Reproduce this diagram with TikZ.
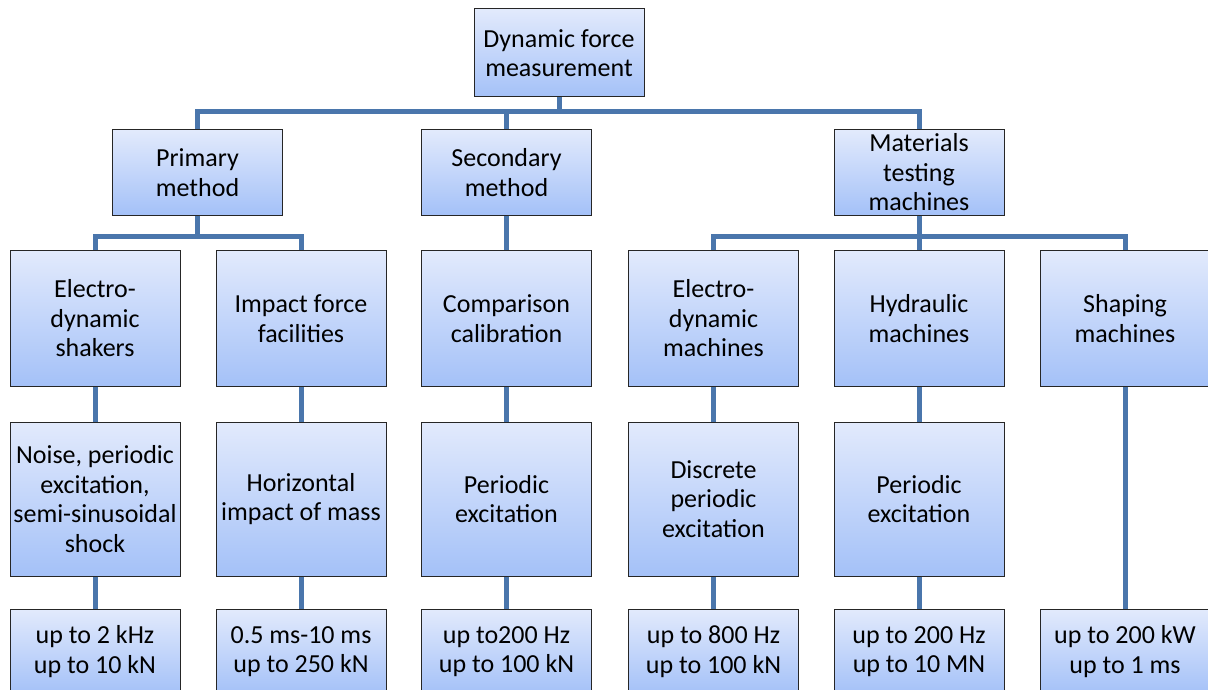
\documentclass[tikz,border=0pt]{standalone}
\usepackage{fontspec}
\setmainfont{Carlito}
\definecolor{boxtop}{HTML}{E2EAFC}
\definecolor{boxbot}{HTML}{A4C1F8}
\definecolor{conn}{HTML}{4A76AC}
\begin{document}
\begin{tikzpicture}[x=1pt,y=-1pt,
  box/.style={draw=black!85,line width=1pt,top color=boxtop,bottom color=boxbot,
    minimum width=170pt,align=center,inner sep=1pt,
    font=\fontsize{26}{29.5}\selectfont},
  conn/.style={draw=conn,line width=5pt}]
\useasboundingbox (0,0) rectangle (1208,690);
% level 0
\node[box,minimum height=88pt] (root) at (559,53) {Dynamic force\\measurement};
% level 1
\node[box,minimum height=85pt] (prim) at (197.5,172.5) {Primary\\method};
\node[box,minimum height=85pt] (sec) at (506.5,172.5) {Secondary\\method};
\node[box,minimum height=85pt] (mat) at (919,172.5) {Materials\\testing\\machines};
% level 2
\node[box,minimum height=136pt] (eds) at (95,318.5) {Electro-\\dynamic\\shakers};
\node[box,minimum height=136pt] (imp) at (301,318.5) {Impact force\\facilities};
\node[box,minimum height=136pt] (cmp) at (506.5,318.5) {Comparison\\calibration};
\node[box,minimum height=136pt] (edm) at (713.5,318.5) {Electro-\\dynamic\\machines};
\node[box,minimum height=136pt] (hyd) at (919,318.5) {Hydraulic\\machines};
\node[box,minimum height=136pt] (shp) at (1125,318.5) {Shaping\\machines};
% level 3
\node[box,minimum height=154pt] (n3a) at (95,499) {Noise, periodic\\excitation,\\semi-sinusoidal\\shock};
\node[box,minimum height=154pt] (n3b) at (301,499) {Horizontal\\impact of mass};
\node[box,minimum height=154pt] (n3c) at (506.5,499) {Periodic\\excitation};
\node[box,minimum height=154pt] (n3d) at (713.5,499) {Discrete\\periodic\\excitation};
\node[box,minimum height=154pt] (n3e) at (919,499) {Periodic\\excitation};
% level 4
\node[box,minimum height=85pt] (n4a) at (95,651.5) {up to 2 kHz\\up to 10 kN};
\node[box,minimum height=85pt] (n4b) at (301,651.5) {0.5 ms-10 ms\\up to 250 kN};
\node[box,minimum height=85pt] (n4c) at (506.5,651.5) {up to200 Hz\\up to 100 kN};
\node[box,minimum height=85pt] (n4d) at (713.5,651.5) {up to 800 Hz\\up to 100 kN};
\node[box,minimum height=85pt] (n4e) at (919,651.5) {up to 200 Hz\\up to 10 MN};
\node[box,minimum height=85pt] (n4f) at (1125,651.5) {up to 200 kW\\up to 1 ms};
% connectors
\coordinate (bus1) at (559,112);
\coordinate (bus2) at (197.5,236);
\coordinate (bus3) at (919,236);
\draw[conn] (root.south) -- (bus1) -| (prim.north);
\draw[conn] (bus1) -| (mat.north);
\draw[conn] (bus1) -| (sec.north);
\draw[conn] (prim.south) -- (bus2) -| (eds.north);
\draw[conn] (bus2) -| (imp.north);
\draw[conn] (sec.south) -- (cmp.north);
\draw[conn] (mat.south) -- (bus3) -| (edm.north);
\draw[conn] (bus3) -| (shp.north);
\draw[conn] (bus3) -- (hyd.north);
\draw[conn] (eds.south) -- (n3a.north);
\draw[conn] (imp.south) -- (n3b.north);
\draw[conn] (cmp.south) -- (n3c.north);
\draw[conn] (edm.south) -- (n3d.north);
\draw[conn] (hyd.south) -- (n3e.north);
\draw[conn] (n3a.south) -- (n4a.north);
\draw[conn] (n3b.south) -- (n4b.north);
\draw[conn] (n3c.south) -- (n4c.north);
\draw[conn] (n3d.south) -- (n4d.north);
\draw[conn] (n3e.south) -- (n4e.north);
\draw[conn] (shp.south) -- (n4f.north);
\end{tikzpicture}
\end{document}
